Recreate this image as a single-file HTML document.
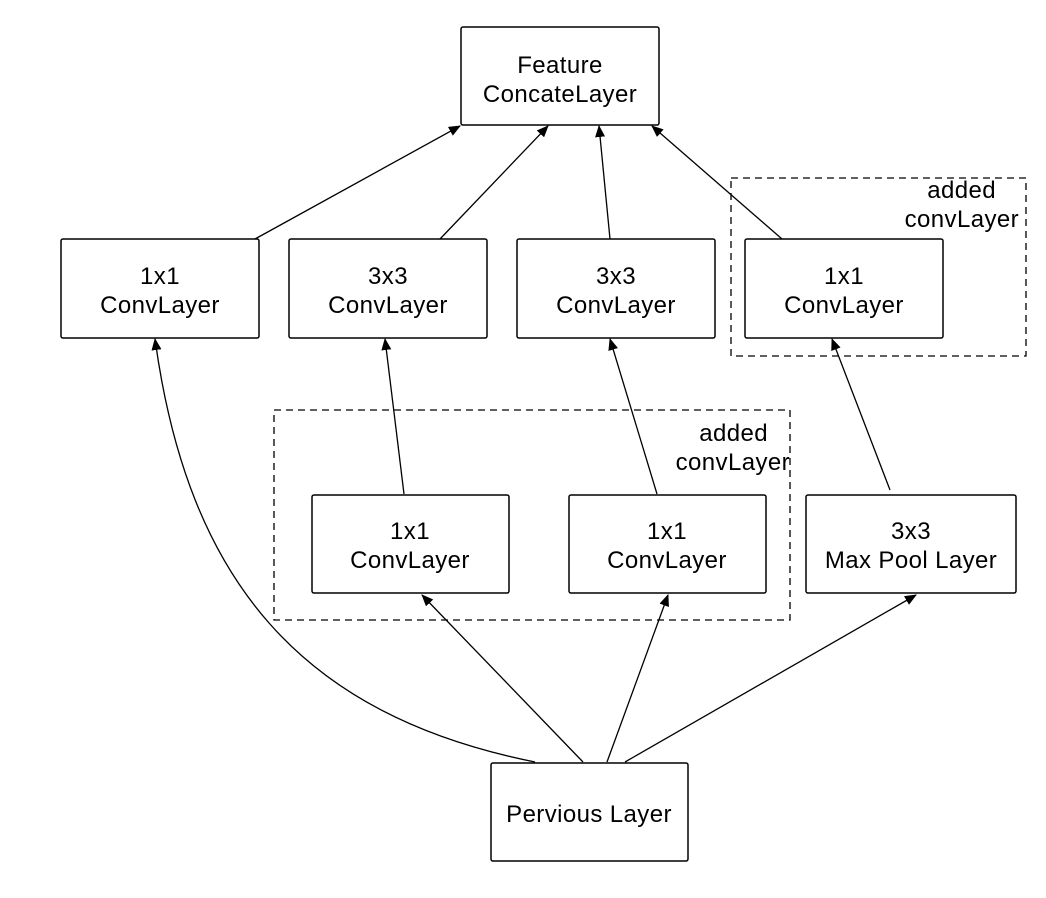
<!DOCTYPE html>
<html><head><meta charset="utf-8"><style>
html,body{margin:0;padding:0;background:#fff;}
svg{display:block;}
text{font-family:"Liberation Sans",Arial,sans-serif;font-size:24px;letter-spacing:0.4px;fill:#000;}
</style></head><body>
<svg width="1046" height="898" viewBox="0 0 1046 898" xmlns="http://www.w3.org/2000/svg">
<defs><marker id="a" markerWidth="12" markerHeight="10" refX="11" refY="5" orient="auto" markerUnits="userSpaceOnUse"><path d="M0,0 L12,5 L0,10 Z" fill="#000"/></marker></defs>
<g fill="none" stroke="#000" stroke-width="1.3" stroke-dasharray="7,5">
<rect x="731" y="178" width="295" height="178"/>
<rect x="274" y="410" width="516" height="210"/>
</g>
<g fill="#fff" stroke="#000" stroke-width="1.5">
<rect x="461" y="27" width="198" height="98" rx="2"/>
<rect x="61" y="239" width="198" height="99" rx="2"/>
<rect x="289" y="239" width="198" height="99" rx="2"/>
<rect x="517" y="239" width="198" height="99" rx="2"/>
<rect x="745" y="239" width="198" height="99" rx="2"/>
<rect x="312" y="495" width="197" height="98" rx="2"/>
<rect x="569" y="495" width="197" height="98" rx="2"/>
<rect x="806" y="495" width="210" height="98" rx="2"/>
<rect x="491" y="763" width="197" height="98" rx="2"/>
</g>
<g stroke="#000" stroke-width="1.3" fill="none" marker-end="url(#a)">
<line x1="255" y1="239" x2="460" y2="126"/>
<line x1="440" y1="239" x2="548" y2="126"/>
<line x1="610" y1="239" x2="599" y2="126"/>
<line x1="782" y1="239" x2="652" y2="126"/>
<path d="M535,762 C300,715 188,580 155,339"/>
<line x1="404" y1="494" x2="385" y2="339"/>
<line x1="657" y1="494" x2="610" y2="339"/>
<line x1="890" y1="490" x2="832" y2="339"/>
<line x1="583" y1="762" x2="422" y2="595"/>
<line x1="607" y1="762" x2="668" y2="595"/>
<line x1="625" y1="762" x2="916" y2="595"/>
</g>
<g text-anchor="middle">
<text x="560" y="73">Feature</text><text x="560" y="102">ConcateLayer</text>
<text x="160" y="284">1x1</text><text x="160" y="313">ConvLayer</text>
<text x="388" y="284">3x3</text><text x="388" y="313">ConvLayer</text>
<text x="616" y="284">3x3</text><text x="616" y="313">ConvLayer</text>
<text x="844" y="284">1x1</text><text x="844" y="313">ConvLayer</text>
<text x="410" y="539">1x1</text><text x="410" y="568">ConvLayer</text>
<text x="667" y="539">1x1</text><text x="667" y="568">ConvLayer</text>
<text x="911" y="539">3x3</text><text x="911" y="568">Max Pool Layer</text>
<text x="589" y="822">Pervious Layer</text>
</g>
<g text-anchor="end">
<text x="996" y="198">added</text><text x="1019" y="227">convLayer</text>
<text x="768" y="441">added</text><text x="790" y="470">convLayer</text>
</g>
</svg>
</body></html>
